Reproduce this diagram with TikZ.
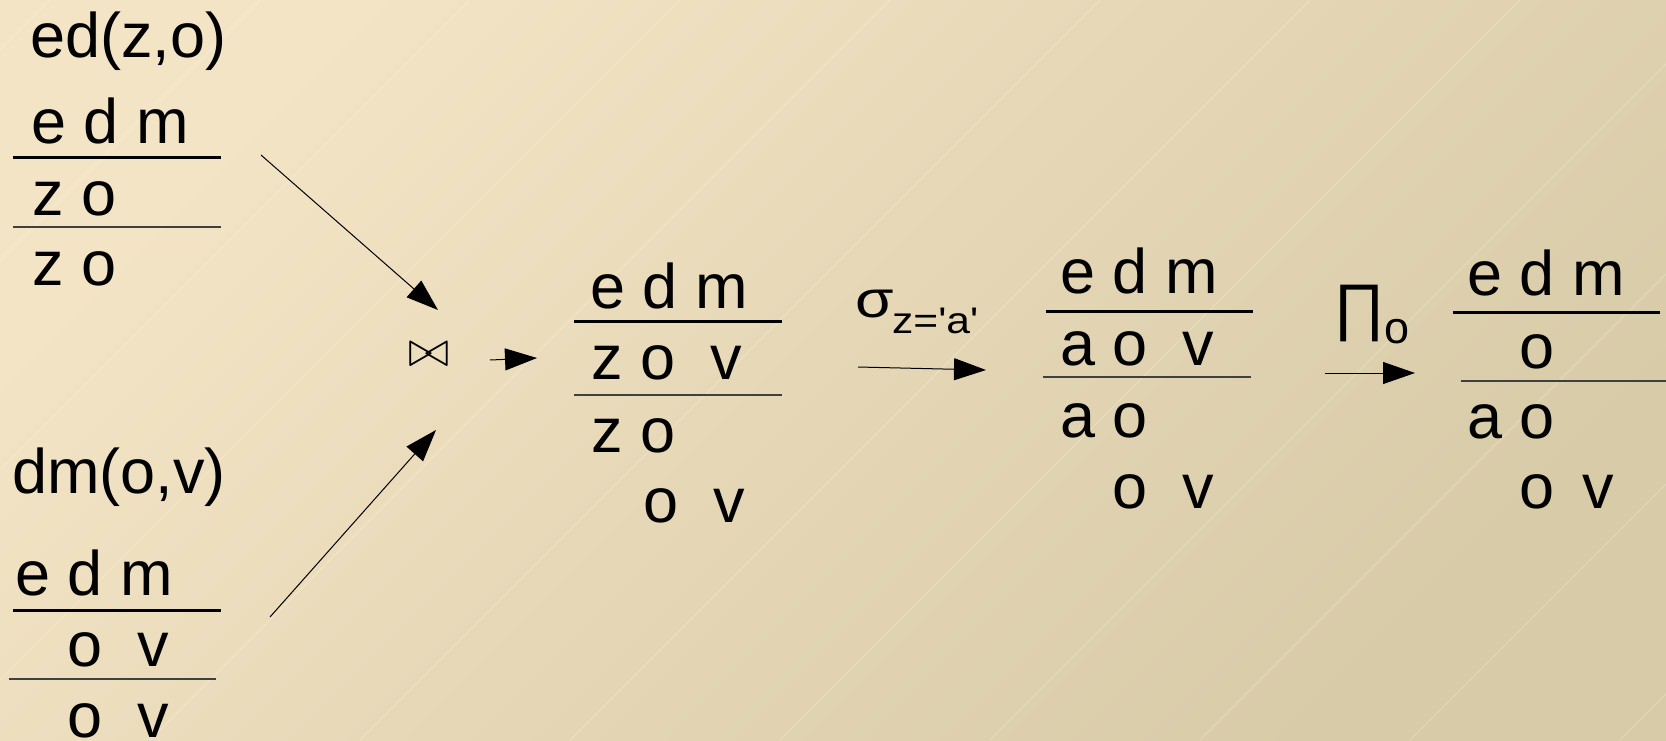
\documentclass[tikz,border=0pt]{standalone}
\usepackage{fontspec}
\setmainfont{Liberation Sans}
\usetikzlibrary{arrows.meta}
\definecolor{bgA}{HTML}{F3E4C5}
\definecolor{bgB}{HTML}{D8CBA8}
\begin{document}
\begin{tikzpicture}[x=1pt,y=-1pt,
  txt/.style={anchor=base west, inner sep=0pt, font=\fontsize{63}{70}\selectfont},
  rule/.style={line width=3pt, black},
  thinrule/.style={line width=1.3pt, black!75},
  arr/.style={line width=1pt, -{Triangle[length=32pt,width=22pt]}},
  texture/.style={white, opacity=0.25, line width=0.8pt}
]
\useasboundingbox (0,0) rectangle (1666,740);
\shade[top color=bgA, bottom color=bgB, shading angle=45] (0,0) rectangle (1666,740);
\begin{scope}
\clip (0,0) rectangle (1666,740);
\foreach \c in {50,260,...,2360} \draw[texture] (\c,0) -- (\c-740,740);
\end{scope}

% table ed
\node[txt] (t1name) at (30,57) {ed(z,o)};
\node[txt] (t1head) at (31,143) {e d m};
\draw[rule] (13,157) -- (221,157);
\node[txt] (t1key) at (32,215) {z o};
\draw[thinrule] (13,227) -- (221,227);
\node[txt] (t1row) at (32,285) {z o};

% table dm
\node[txt] (t2name) at (12,493) {dm(o,v)};
\node[txt] (t2head) at (15,595) {e d m};
\draw[rule] (13,610) -- (221,610);
\node[txt] (t2key) at (67,666) {o\ \ v};
\draw[thinrule] (9,679) -- (216,679);
\node[txt] (t2row) at (67,737) {o\ \ v};

% join
\node[inner sep=0pt, font=\fontsize{24.88}{30}\selectfont] (join) at (429,355) {\scalebox{2.05}{$\bowtie$}};
\coordinate (a1s) at (261,155); \coordinate (a1e) at (438,310);
\coordinate (a2s) at (270,617); \coordinate (a2e) at (436,430);
\coordinate (a3s) at (490,360); \coordinate (a3e) at (537,358);
\draw[arr] (a1s) -- (a1e);
\draw[arr] (a2s) -- (a2e);
\draw[arr] (a3s) -- (a3e);

% joined table
\node[txt] (t3head) at (590,308) {e d m};
\draw[rule] (574,321) -- (782,321);
\node[txt] (t3key) at (591,379) {z o\ \ v};
\draw[thinrule] (574,395) -- (782,395);
\node[txt] (t3row1) at (591,452) {z o};
\node[txt] (t3row2) at (643,522) {o\ \ v};

% selection
\node[txt, font=\fontsize{52}{60}\selectfont] (sig) at (855,317) {\scalebox{1.2}[1]{σ}};
\node[txt, font=\fontsize{37}{42}\selectfont] (sigsub) at (892,333) {\scalebox{1.15}[1]{z=\textquotesingle a\textquotesingle}};
\coordinate (a4s) at (858,367); \coordinate (a4e) at (986,370);
\draw[arr] (a4s) -- (a4e);

% selected table
\node[txt] (t4head) at (1060,293) {e d m};
\draw[rule] (1046,311) -- (1253,311);
\node[txt] (t4key) at (1060,365) {a o\ \ v};
\draw[thinrule] (1043,377) -- (1251,377);
\node[txt] (t4row1) at (1060,437) {a o};
\node[txt] (t4row2) at (1112,508) {o\ \ v};

% projection
\node[txt] (proj) at (1333,328) {∏};
\node[txt, font=\fontsize{45}{50}\selectfont] (projsub) at (1384,343) {o};
\coordinate (a5s) at (1325,373); \coordinate (a5e) at (1415,373);
\draw[arr] (a5s) -- (a5e);

% projected table
\node[txt] (t5head) at (1467,295) {e d m};
\draw[rule] (1453,312) -- (1660,312);
\node[txt] (t5key) at (1519,368) {o};
\draw[thinrule] (1461,381) -- (1666,381);
\node[txt] (t5row1) at (1467,438) {a o};
\node[txt] (t5row2) at (1519,508) {o\hspace{28pt}v};
\end{tikzpicture}
\end{document}
